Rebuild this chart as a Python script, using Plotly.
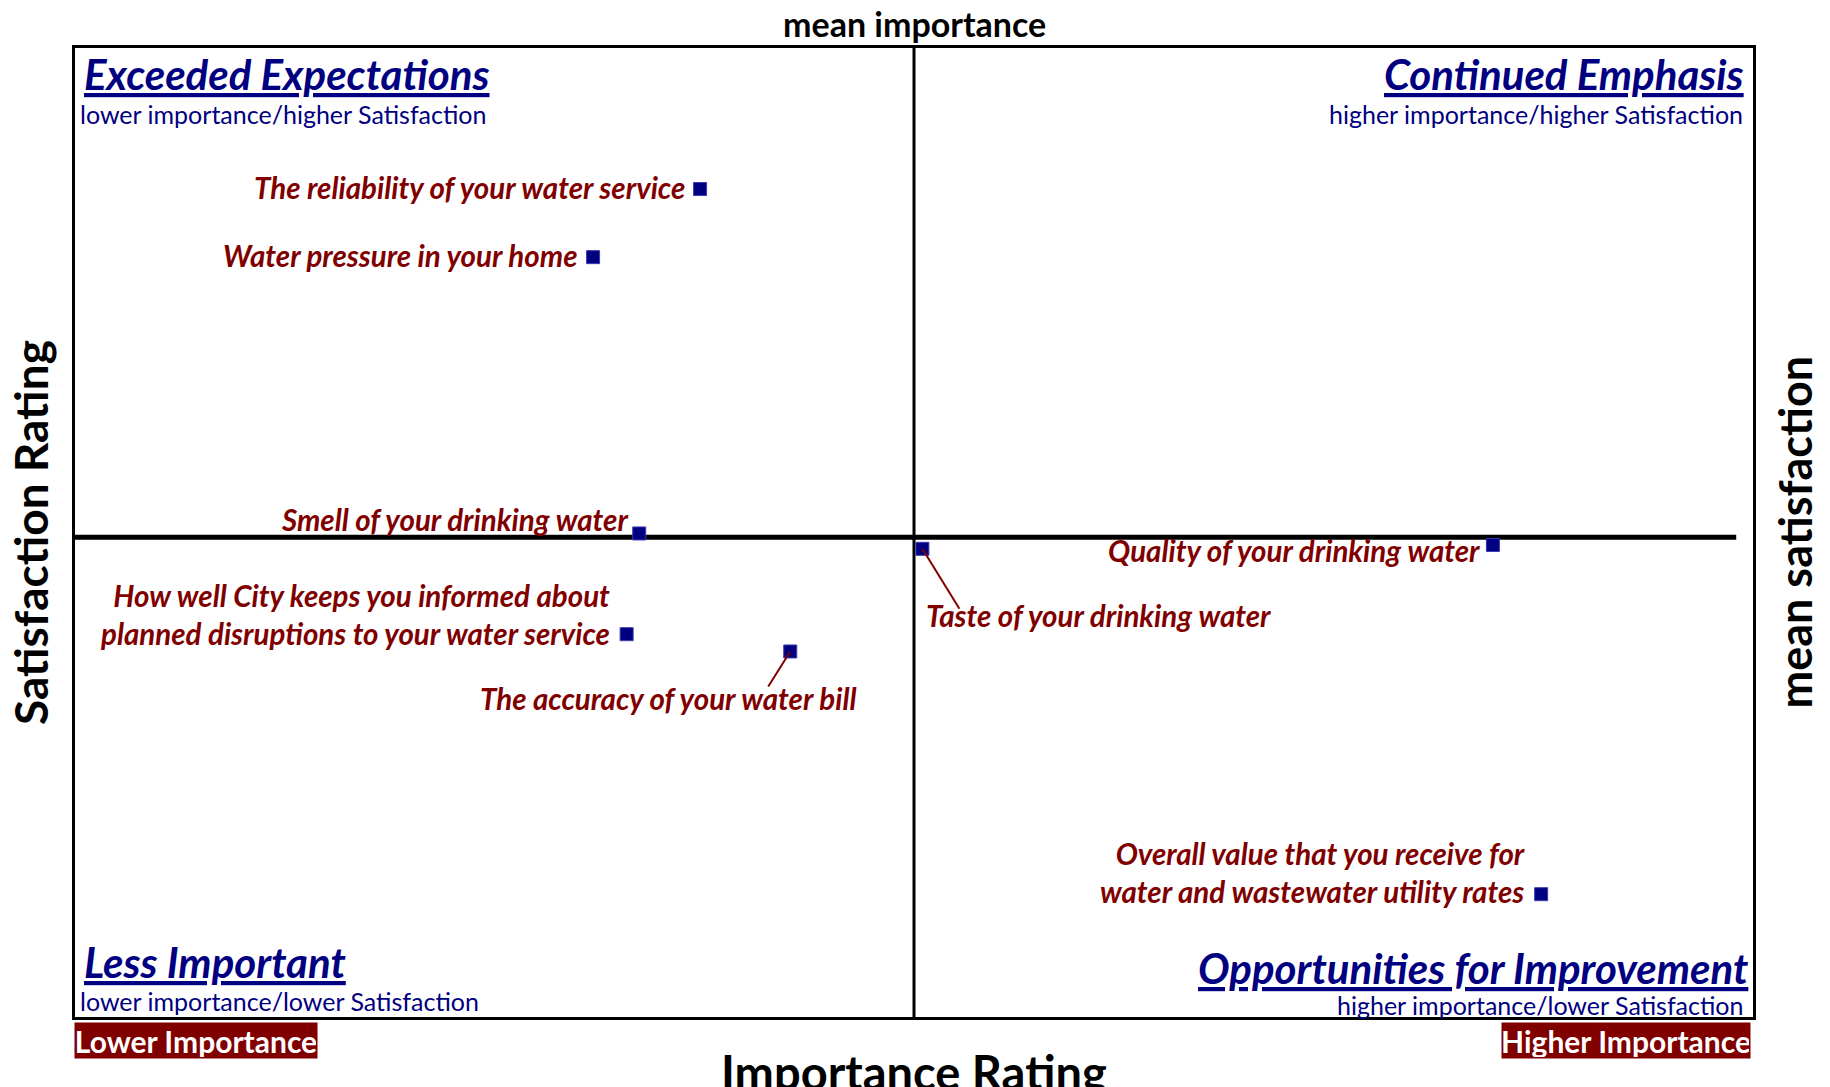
import plotly.graph_objects as go

# survey items, importance (x) and satisfaction (y) means
items = [
    "The reliability of your water service",
    "Water pressure in your home",
    "Smell of your drinking water",
    "How well City keeps you informed about<br>planned disruptions to your water service",
    "The accuracy of your water bill",
    "Taste of your drinking water",
    "Quality of your drinking water",
    "Overall value that you receive for<br>water and wastewater utility rates",
]
importance = [3.698, 3.647, 3.669, 3.663, 3.741, 3.804, 4.076, 4.099]
satisfaction = [4.063, 3.992, 3.704, 3.599, 3.581, 3.688, 3.692, 3.328]

mean_importance = 3.80
mean_satisfaction = 3.70

x_range = [3.40, 4.20]
y_range = [3.20, 4.21]

quadrants = [
    # title, subtitle, side, top?
    ("Exceeded Expectations", "lower importance/higher Satisfaction", "left", True),
    ("Continued Emphasis", "higher importance/higher Satisfaction", "right", True),
    ("Less Important", "lower importance/lower Satisfaction", "left", False),
    ("Opportunities for Improvement", "higher importance/lower Satisfaction", "right", False),
]

RED = "#800000"
NAVY = "#000080"
FONT = "Lato"

# label placement relative to each marker (pixels): xanchor, xshift, yshift, leader line
label_pos = {
    0: dict(xanchor="right", xshift=-13, yshift=2),
    1: dict(xanchor="right", xshift=-13, yshift=2),
    2: dict(xanchor="right", xshift=-9, yshift=14),
    3: dict(xanchor="right", xshift=-15, yshift=20),
    4: dict(xanchor="center", xshift=-122, yshift=-47, line=(-22, -35)),
    5: dict(xanchor="left", xshift=2, yshift=-67, line=(37, -60)),
    6: dict(xanchor="right", xshift=-11, yshift=-6),
    7: dict(xanchor="right", xshift=-14, yshift=22),
}

fig = go.Figure()

fig.add_trace(go.Scatter(
    x=importance, y=satisfaction, mode="markers",
    marker=dict(symbol="square", size=13, color=NAVY, line=dict(width=1, color="#3a3ab0")),
    text=[t.replace("<br>", " ") for t in items],
    hovertemplate="%{text}<extra></extra>",
    showlegend=False,
))

shapes = [
    dict(type="line", xref="x", yref="paper", x0=mean_importance, x1=mean_importance, y0=0, y1=1,
         line=dict(color="black", width=3), layer="below"),
    dict(type="line", xref="paper", yref="y", x0=0, x1=0.99, y0=mean_satisfaction, y1=mean_satisfaction,
         line=dict(color="black", width=5), layer="below"),
]

annotations = []
for i, name in enumerate(items):
    p = label_pos[i]
    annotations.append(dict(
        x=importance[i], y=satisfaction[i], xref="x", yref="y",
        text="<b><i>" + name + "</i></b>", showarrow=False,
        xanchor=p["xanchor"], yanchor="middle", xshift=p["xshift"], yshift=p["yshift"],
        align="right" if p["xanchor"] == "right" else "left",
        font=dict(family=FONT, size=29.5, color=RED),
    ))
    if "line" in p:
        dx, dy = p["line"]
        shapes.append(dict(
            type="line", xref="x", yref="y",
            xsizemode="pixel", xanchor=importance[i], x0=0, x1=dx,
            ysizemode="pixel", yanchor=satisfaction[i], y0=0, y1=dy,
            line=dict(color=RED, width=2),
        ))

for title, sub, side, top in quadrants:
    if top:
        ty, sy = 1 - 26 / 969, 1 - 66 / 969
    else:
        ty, sy = 55 / 969, 16 / 969
    if side == "left":
        tx, sx = 0.004, 0.002
    elif top:
        tx, sx = 0.996, 0.995
    else:
        tx, sx = 0.998, 0.995
    if side == "right" and not top:
        ty, sy = 49 / 969, 12 / 969
    annotations.append(dict(
        x=tx, y=ty, xref="paper", yref="paper", xanchor=side, yanchor="middle",
        text="<b><i><u>" + title + "</u></i></b>", showarrow=False,
        font=dict(family=FONT, size=42, color=NAVY),
    ))
    annotations.append(dict(
        x=sx, y=sy, xref="paper", yref="paper",
        xanchor=side, yanchor="middle", text=sub, showarrow=False,
        font=dict(family=FONT, size=25, color=NAVY),
    ))

# axis captions
annotations += [
    dict(x=0.5, y=1, xref="paper", yref="paper", yanchor="bottom", yshift=2,
         text="<b>mean importance</b>", showarrow=False,
         font=dict(family=FONT, size=34, color="black")),
    dict(x=0.5, y=0, xref="paper", yref="paper", yanchor="top", yshift=-25,
         text="<b>Importance Rating</b>", showarrow=False,
         font=dict(family=FONT, size=47, color="black")),
    dict(x=0, y=0.5, xref="paper", yref="paper", xanchor="right", xshift=-15,
         text="<b>Satisfaction Rating</b>", textangle=-90, showarrow=False,
         font=dict(family=FONT, size=46, color="black")),
    dict(x=1, y=0.5, xref="paper", yref="paper", xanchor="left", xshift=12,
         text="<b>mean satisfaction</b>", textangle=-90, showarrow=False,
         font=dict(family=FONT, size=45, color="black")),
    dict(x=0, y=0, xref="paper", yref="paper", xanchor="left", yanchor="top", xshift=-1, yshift=-5,
         text="<b>Lower Importance</b>", showarrow=False, bgcolor=RED, borderpad=1,
         width=240, height=33,
         font=dict(family=FONT, size=30, color="white")),
    dict(x=1, y=0, xref="paper", yref="paper", xanchor="right", yanchor="top", xshift=-2, yshift=-5,
         text="<b>Higher Importance</b>", showarrow=False, bgcolor=RED, borderpad=1,
         width=246, height=33,
         font=dict(family=FONT, size=30, color="white")),
]

axis_style = dict(showgrid=False, zeroline=False, showticklabels=False, ticks="",
                  showline=True, linecolor="black", linewidth=3, mirror=True, fixedrange=True)

fig.update_layout(
    width=1830, height=1087, autosize=False,
    margin=dict(l=75, r=77, t=48, b=70),
    paper_bgcolor="white", plot_bgcolor="white",
    xaxis=dict(range=x_range, **axis_style),
    yaxis=dict(range=y_range, **axis_style),
    shapes=shapes, annotations=annotations,
    font=dict(family=FONT),
)

# drop the default page margin so the figure sits at the window's top-left corner
fig.write_html("out.html", config={"displayModeBar": False},
               post_script="document.body.style.margin='0';")
